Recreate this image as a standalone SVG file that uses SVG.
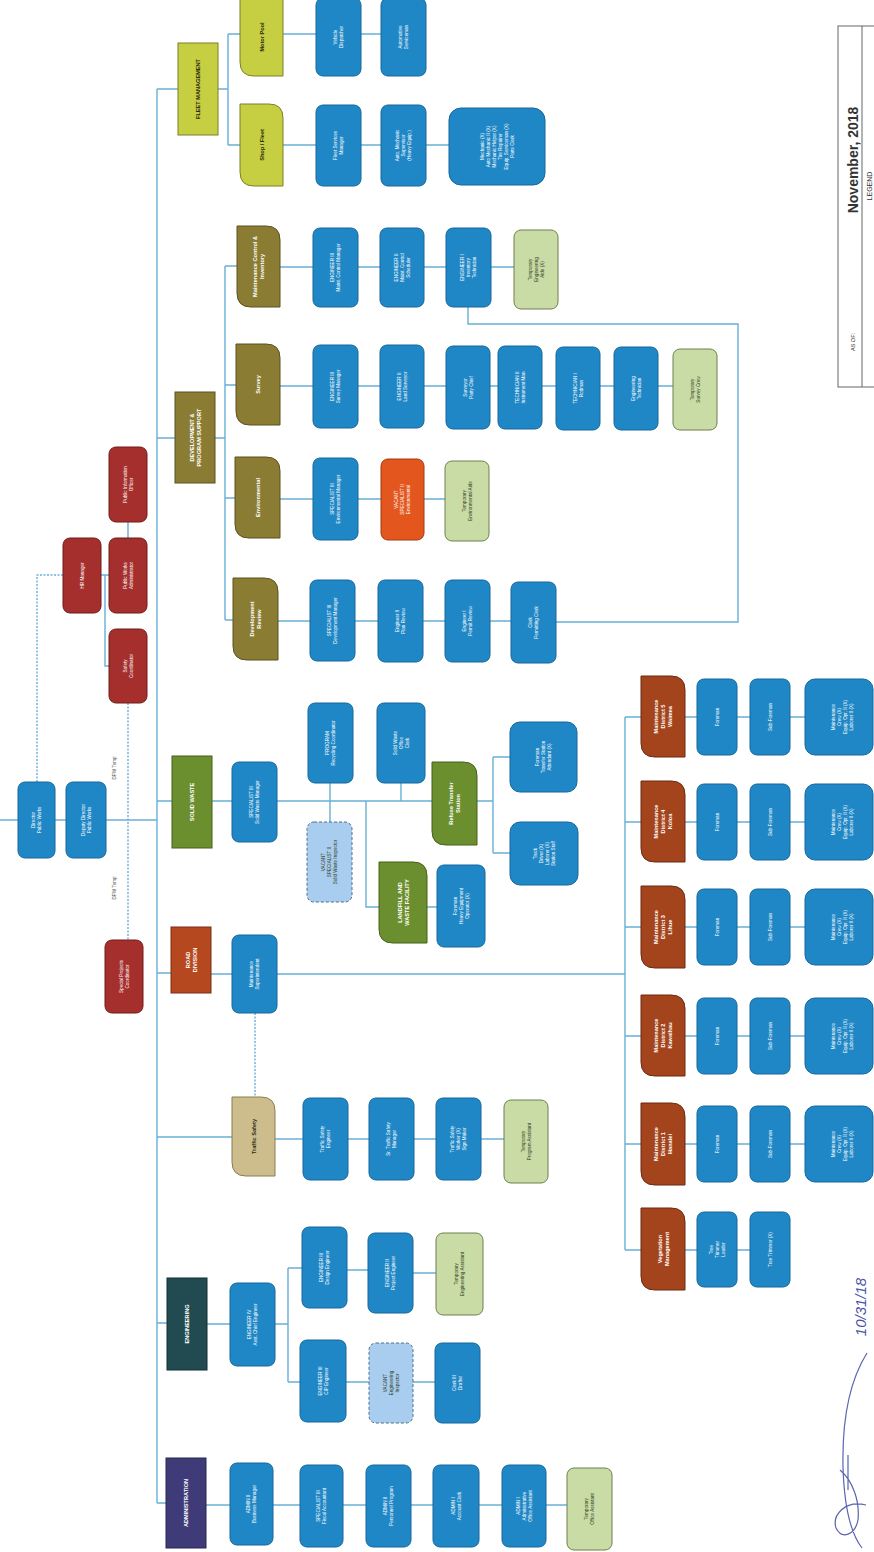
<svg xmlns="http://www.w3.org/2000/svg" width="874" height="1552" viewBox="0 0 874 1552">
<style>
.c{fill:none;stroke:#68afd8;stroke-width:1.4}
.cd{fill:none;stroke:#68afd8;stroke-width:1.4;stroke-dasharray:2 1.5}
.b{fill:#1f87c6;stroke:#17679b;stroke-width:1}
.tmp{fill:#c9dca6;stroke:#6f7f4f;stroke-width:1}
.vac{fill:#a9cdee;stroke:#4f6f8f;stroke-width:1;stroke-dasharray:3 2}
.vor{fill:#e3561d;stroke:#a03a10;stroke-width:1}
.red{fill:#a52f2c;stroke:#6e1c1a;stroke-width:1}
.ol{fill:#8b7c33;stroke:#5b5020;stroke-width:1}
.yg{fill:#c6cf42;stroke:#7c7f2a;stroke-width:1}
.gr{fill:#6b8f2e;stroke:#46601c;stroke-width:1}
.ro{fill:#b5481f;stroke:#7a2e10;stroke-width:1}
.br{fill:#a4441d;stroke:#6b2a10;stroke-width:1}
.te{fill:#214b50;stroke:#142f33;stroke-width:1}
.pu{fill:#3e3b78;stroke:#28264f;stroke-width:1}
.tan{fill:#cdbd8c;stroke:#8a7c50;stroke-width:1}
text{font-family:"Liberation Sans",Arial,sans-serif;text-anchor:middle}
.w{fill:#fff;font-size:4.6px}
.wb{fill:#fff;font-size:5.6px;font-weight:bold}
.d{fill:#2a3a1a;font-size:4.6px}
.db{fill:#2a2a10;font-size:5.6px;font-weight:bold}
</style>
<rect width="874" height="1552" fill="#fff"/>

<g id="connectors">
<path class="c" d="M0 820H157"/>
<path class="cd" d="M37 782V575H63"/>
<path class="c" d="M101 575H109M128 522V538M105 575V666H109"/>
<path class="cd" d="M128 703V940"/>
<path class="c" d="M157 89V1503"/>
<path class="c" d="M157 89H178M157 438H175M157 801H172M157 973H171M157 1137H232M157 1323H167M157 1503H166"/>
<path class="c" d="M218 89H228M228 34V145M228 34H240M228 145H240M283 34H381M283 145H449"/>
<path class="c" d="M215 438H225M225 266V620M225 266H237M225 385H236M225 498H235M225 620H233"/>
<path class="c" d="M280 267H514M280 386H673M280 499H445M278 621H511"/>
<path class="c" d="M468 307V324H738V622H556"/>
<path class="c" d="M212 801H493M330 783V822M401 783V801M366 801V907H379M427 907H437M493 757V853M493 757H510M493 853H510"/>
<path class="c" d="M211 974H625M625 717V1250M625 717H641M625 822H641M625 927H641M625 1036H641M625 1144H641M625 1250H641"/>
<path class="c" d="M685 717H805M685 822H805M685 927H805M685 1036H805M685 1144H805M685 1250H750"/>
<path class="cd" d="M255 1013V1097"/>
<path class="c" d="M275 1139H504"/>
<path class="c" d="M207 1324H230M275 1324H288M288 1268V1382M288 1268H302M347 1270H368M413 1273H436M288 1382H300M346 1382H435"/>
<path class="c" d="M206 1505H567"/>
</g>

<g id="root">
<g id="n-director"><rect class="b" x="18" y="782" width="37" height="76" rx="7"/><text class="w" transform="translate(36.5,820) rotate(-90)"><tspan x="0" y="-1.4">Director</tspan><tspan x="0" y="4.6">Public Works</tspan></text></g>
<g id="n-deputy"><rect class="b" x="66" y="782" width="40" height="76" rx="7"/><text class="w" transform="translate(86,820) rotate(-90)"><tspan x="0" y="-1.4">Deputy Director</tspan><tspan x="0" y="4.6">Public Works</tspan></text></g>
<g id="n-special"><rect class="red" x="105" y="940" width="38" height="73" rx="7"/><text class="w" transform="translate(124,976.5) rotate(-90)"><tspan x="0" y="-1.4">Special Projects</tspan><tspan x="0" y="4.6">Coordinator</tspan></text></g>
<g id="n-r1"><rect class="red" x="109" y="447" width="38" height="75" rx="7"/><text class="w" transform="translate(128,484.5) rotate(-90)"><tspan x="0" y="-1.4">Public Information</tspan><tspan x="0" y="4.6">Officer</tspan></text></g>
<g id="n-r2"><rect class="red" x="63" y="538" width="38" height="75" rx="7"/><text class="w" transform="translate(82,575.5) rotate(-90)"><tspan x="0" y="1.6">HR Manager</tspan></text></g>
<g id="n-r3"><rect class="red" x="109" y="538" width="38" height="75" rx="7"/><text class="w" transform="translate(128,575.5) rotate(-90)"><tspan x="0" y="-1.4">Public Works</tspan><tspan x="0" y="4.6">Administrator</tspan></text></g>
<g id="n-r4"><rect class="red" x="109" y="629" width="38" height="74" rx="7"/><text class="w" transform="translate(128,666) rotate(-90)"><tspan x="0" y="-1.4">Safety</tspan><tspan x="0" y="4.6">Coordinator</tspan></text></g>
<text fill="#555" font-size="4.6" transform="translate(116,768) rotate(-90)">DPW Temp</text>
<text fill="#555" font-size="4.6" transform="translate(116,888) rotate(-90)">DPW Temp</text>
</g>

<g id="n-fleet"><rect class="yg" x="178" y="43" width="40" height="92"/><text class="db" transform="translate(198,89) rotate(-90)"><tspan x="0" y="2">FLEET MANAGEMENT</tspan></text></g>
<g id="n-dps"><rect class="ol" x="175" y="392" width="40" height="91"/><text class="wb" transform="translate(195,437.5) rotate(-90)"><tspan x="0" y="-1.5">DEVELOPMENT &amp;</tspan><tspan x="0" y="5.5">PROGRAM SUPPORT</tspan></text></g>
<g id="n-sw"><rect class="gr" x="172" y="756" width="40" height="92"/><text class="wb" transform="translate(192,802) rotate(-90)"><tspan x="0" y="2">SOLID WASTE</tspan></text></g>
<g id="n-road"><rect class="ro" x="171" y="927" width="40" height="66"/><text class="wb" transform="translate(191,960) rotate(-90)"><tspan x="0" y="-1.5">ROAD</tspan><tspan x="0" y="5.5">DIVISION</tspan></text></g>
<g id="n-eng"><rect class="te" x="167" y="1278" width="40" height="92"/><text class="wb" transform="translate(187,1324) rotate(-90)"><tspan x="0" y="2">ENGINEERING</tspan></text></g>
<g id="n-admin"><rect class="pu" x="166" y="1458" width="40" height="90"/><text class="wb" transform="translate(186,1503) rotate(-90)"><tspan x="0" y="2">ADMINISTRATION</tspan></text></g>

<g id="fleet">
<g id="n-motor"><path class="yg" d="M240 -2H283V76H254Q240 76 240 62Z"/><text class="db" transform="translate(261.5,37) rotate(-90)"><tspan x="0" y="2">Motor Pool</tspan></text></g>
<g id="n-shop"><path class="yg" d="M240 104H269Q283 104 283 118V186H254Q240 186 240 172Z"/><text class="db" transform="translate(261.5,145) rotate(-90)"><tspan x="0" y="2">Shop / Fleet</tspan></text></g>
<g id="n-f1"><rect class="b" x="316" y="-2" width="45" height="78" rx="7"/><text class="w" transform="translate(338.5,37) rotate(-90)"><tspan x="0" y="-1.4">Vehicle</tspan><tspan x="0" y="4.6">Dispatcher</tspan></text></g>
<g id="n-f2"><rect class="b" x="381" y="-2" width="45" height="78" rx="7"/><text class="w" transform="translate(403.5,37) rotate(-90)"><tspan x="0" y="-1.4">Automotive</tspan><tspan x="0" y="4.6">Serviceman</tspan></text></g>
<g id="n-f3"><rect class="b" x="316" y="105" width="45" height="81" rx="7"/><text class="w" transform="translate(338.5,145.5) rotate(-90)"><tspan x="0" y="-1.4">Fleet Services</tspan><tspan x="0" y="4.6">Manager</tspan></text></g>
<g id="n-f4"><rect class="b" x="381" y="105" width="45" height="81" rx="7"/><text class="w" transform="translate(403.5,145.5) rotate(-90)"><tspan x="0" y="-4.4">Auto. Mechanic</tspan><tspan x="0" y="1.6">Supervisor</tspan><tspan x="0" y="7.6">(Heavy Equip.)</tspan></text></g>
<g id="n-f5"><rect class="b" x="449" y="108" width="96" height="77" rx="12"/><text class="w" transform="translate(497,146.5) rotate(-90)"><tspan x="0" y="-13.4">Mechanic (X)</tspan><tspan x="0" y="-7.4">Auto Mechanic II (X)</tspan><tspan x="0" y="-1.4">Mechanic Helper (X)</tspan><tspan x="0" y="4.6">Tire Repairer</tspan><tspan x="0" y="10.6">Equip. Serviceman (X)</tspan><tspan x="0" y="16.6">Parts Clerk</tspan></text></g>
</g>

<g id="dps">
<g id="n-mci"><path class="ol" d="M237 226H266Q280 226 280 240V307H251Q237 307 237 293Z"/><text class="wb" transform="translate(258.5,266.5) rotate(-90)"><tspan x="0" y="-1.5">Maintenance Control &amp;</tspan><tspan x="0" y="5.5">Inventory</tspan></text></g>
<g id="n-survey"><path class="ol" d="M236 344H266Q280 344 280 358V425H250Q236 425 236 411Z"/><text class="wb" transform="translate(258,384.5) rotate(-90)"><tspan x="0" y="2">Survey</tspan></text></g>
<g id="n-env"><path class="ol" d="M235 457H266Q280 457 280 471V538H249Q235 538 235 524Z"/><text class="wb" transform="translate(257.5,497.5) rotate(-90)"><tspan x="0" y="2">Environmental</tspan></text></g>
<g id="n-devrev"><path class="ol" d="M233 578H264Q278 578 278 592V660H247Q233 660 233 646Z"/><text class="wb" transform="translate(255.5,619) rotate(-90)"><tspan x="0" y="-1.5">Development</tspan><tspan x="0" y="5.5">Review</tspan></text></g>
<g id="n-m1"><rect class="b" x="313" y="228" width="45" height="79" rx="7"/><text class="w" transform="translate(335.5,267.5) rotate(-90)"><tspan x="0" y="-1.4">ENGINEER III</tspan><tspan x="0" y="4.6">Maint. Control Manager</tspan></text></g>
<g id="n-m2"><rect class="b" x="380" y="228" width="44" height="79" rx="7"/><text class="w" transform="translate(402,267.5) rotate(-90)"><tspan x="0" y="-4.4">ENGINEER II</tspan><tspan x="0" y="1.6">Maint. Control</tspan><tspan x="0" y="7.6">Scheduler</tspan></text></g>
<g id="n-m3"><rect class="b" x="446" y="228" width="45" height="79" rx="7"/><text class="w" transform="translate(468.5,267.5) rotate(-90)"><tspan x="0" y="-4.4">ENGINEER I</tspan><tspan x="0" y="1.6">Inventory</tspan><tspan x="0" y="7.6">Technician</tspan></text></g>
<g id="n-m4"><rect class="tmp" x="514" y="230" width="44" height="79" rx="7"/><text class="d" transform="translate(536,269.5) rotate(-90)"><tspan x="0" y="-4.4">Temporary</tspan><tspan x="0" y="1.6">Engineering</tspan><tspan x="0" y="7.6">Aide (X)</tspan></text></g>
<g id="n-s1"><rect class="b" x="313" y="345" width="45" height="83" rx="7"/><text class="w" transform="translate(335.5,386.5) rotate(-90)"><tspan x="0" y="-1.4">ENGINEER III</tspan><tspan x="0" y="4.6">Survey Manager</tspan></text></g>
<g id="n-s2"><rect class="b" x="380" y="345" width="44" height="83" rx="7"/><text class="w" transform="translate(402,386.5) rotate(-90)"><tspan x="0" y="-1.4">ENGINEER II</tspan><tspan x="0" y="4.6">Land Surveyor</tspan></text></g>
<g id="n-s3"><rect class="b" x="446" y="346" width="44" height="83" rx="7"/><text class="w" transform="translate(468,387.5) rotate(-90)"><tspan x="0" y="-1.4">Surveyor</tspan><tspan x="0" y="4.6">Party Chief</tspan></text></g>
<g id="n-s4"><rect class="b" x="498" y="346" width="44" height="83" rx="7"/><text class="w" transform="translate(520,387.5) rotate(-90)"><tspan x="0" y="-1.4">TECHNICIAN II</tspan><tspan x="0" y="4.6">Instrument Man</tspan></text></g>
<g id="n-s5"><rect class="b" x="556" y="347" width="44" height="83" rx="7"/><text class="w" transform="translate(578,388.5) rotate(-90)"><tspan x="0" y="-1.4">TECHNICIAN I</tspan><tspan x="0" y="4.6">Rodman</tspan></text></g>
<g id="n-s6"><rect class="b" x="614" y="347" width="44" height="83" rx="7"/><text class="w" transform="translate(636,388.5) rotate(-90)"><tspan x="0" y="-1.4">Engineering</tspan><tspan x="0" y="4.6">Technician</tspan></text></g>
<g id="n-s7"><rect class="tmp" x="673" y="349" width="44" height="81" rx="7"/><text class="d" transform="translate(695,389.5) rotate(-90)"><tspan x="0" y="-1.4">Temporary</tspan><tspan x="0" y="4.6">Survey Crew</tspan></text></g>
<g id="n-e1"><rect class="b" x="313" y="458" width="45" height="82" rx="7"/><text class="w" transform="translate(335.5,499) rotate(-90)"><tspan x="0" y="-1.4">SPECIALIST III</tspan><tspan x="0" y="4.6">Environmental Manager</tspan></text></g>
<g id="n-e2"><rect class="vor" x="381" y="459" width="43" height="81" rx="7"/><text class="w" transform="translate(402.5,499.5) rotate(-90)"><tspan x="0" y="-4.4">VACANT</tspan><tspan x="0" y="1.6">SPECIALIST II</tspan><tspan x="0" y="7.6">Environmental</tspan></text></g>
<g id="n-e3"><rect class="tmp" x="445" y="461" width="44" height="80" rx="7"/><text class="d" transform="translate(467,501) rotate(-90)"><tspan x="0" y="-1.4">Temporary</tspan><tspan x="0" y="4.6">Environmental Aide</tspan></text></g>
<g id="n-d1"><rect class="b" x="310" y="580" width="45" height="81" rx="7"/><text class="w" transform="translate(332.5,620.5) rotate(-90)"><tspan x="0" y="-1.4">SPECIALIST III</tspan><tspan x="0" y="4.6">Development Manager</tspan></text></g>
<g id="n-d2"><rect class="b" x="378" y="580" width="45" height="82" rx="7"/><text class="w" transform="translate(400.5,621) rotate(-90)"><tspan x="0" y="-1.4">Engineer II</tspan><tspan x="0" y="4.6">Plan Review</tspan></text></g>
<g id="n-d3"><rect class="b" x="445" y="580" width="45" height="82" rx="7"/><text class="w" transform="translate(467.5,621) rotate(-90)"><tspan x="0" y="-1.4">Engineer I</tspan><tspan x="0" y="4.6">Permit Review</tspan></text></g>
<g id="n-d4"><rect class="b" x="511" y="582" width="45" height="81" rx="7"/><text class="w" transform="translate(533.5,622.5) rotate(-90)"><tspan x="0" y="-1.4">Clerk</tspan><tspan x="0" y="4.6">Permitting Clerk</tspan></text></g>
</g>

<g id="solidwaste">
<g id="n-sw1"><rect class="b" x="232" y="762" width="45" height="80" rx="7"/><text class="w" transform="translate(254.5,802) rotate(-90)"><tspan x="0" y="-1.4">SPECIALIST III</tspan><tspan x="0" y="4.6">Solid Waste Manager</tspan></text></g>
<g id="n-sw2"><rect class="b" x="308" y="703" width="45" height="80" rx="7"/><text class="w" transform="translate(330.5,743) rotate(-90)"><tspan x="0" y="-1.4">PROGRAM</tspan><tspan x="0" y="4.6">Recycling Coordinator</tspan></text></g>
<g id="n-sw3"><rect class="b" x="377" y="703" width="48" height="80" rx="7"/><text class="w" transform="translate(401,743) rotate(-90)"><tspan x="0" y="-4.4">Solid Waste</tspan><tspan x="0" y="1.6">Office</tspan><tspan x="0" y="7.6">Clerk</tspan></text></g>
<g id="n-sw4"><rect class="vac" x="307" y="822" width="45" height="80" rx="7"/><text class="d" transform="translate(329.5,862) rotate(-90)"><tspan x="0" y="-4.4">VACANT</tspan><tspan x="0" y="1.6">SPECIALIST II</tspan><tspan x="0" y="7.6">Solid Waste Inspector</tspan></text></g>
<g id="n-rts"><path class="gr" d="M432 762H463Q477 762 477 776V845H446Q432 845 432 831Z"/><text class="wb" transform="translate(454.5,803.5) rotate(-90)"><tspan x="0" y="-1.5">Refuse Transfer</tspan><tspan x="0" y="5.5">Station</tspan></text></g>
<g id="n-lf"><path class="gr" d="M379 862H413Q427 862 427 876V943H393Q379 943 379 929Z"/><text class="wb" transform="translate(403,902.5) rotate(-90)"><tspan x="0" y="-1.5">LANDFILL AND</tspan><tspan x="0" y="5.5">WASTE FACILITY</tspan></text></g>
<g id="n-sw5"><rect class="b" x="510" y="722" width="67" height="70" rx="10"/><text class="w" transform="translate(543.5,757) rotate(-90)"><tspan x="0" y="-4.4">Foreman</tspan><tspan x="0" y="1.6">Transfer Station</tspan><tspan x="0" y="7.6">Attendant (X)</tspan></text></g>
<g id="n-sw6"><rect class="b" x="510" y="822" width="68" height="63" rx="10"/><text class="w" transform="translate(544,853.5) rotate(-90)"><tspan x="0" y="-7.4">Truck</tspan><tspan x="0" y="-1.4">Driver (X)</tspan><tspan x="0" y="4.6">Laborer (X)</tspan><tspan x="0" y="10.6">Station Staff</tspan></text></g>
<g id="n-sw7"><rect class="b" x="437" y="865" width="48" height="82" rx="7"/><text class="w" transform="translate(461,906) rotate(-90)"><tspan x="0" y="-4.4">Foreman</tspan><tspan x="0" y="1.6">Heavy Equipment</tspan><tspan x="0" y="7.6">Operator (X)</tspan></text></g>
</g>

<g id="road">
<g id="n-rd1"><rect class="b" x="232" y="935" width="45" height="78" rx="7"/><text class="w" transform="translate(254.5,974) rotate(-90)"><tspan x="0" y="-1.4">Maintenance</tspan><tspan x="0" y="4.6">Superintendent</tspan></text></g>
<g id="n-dist5"><path class="br" d="M641 676H671Q685 676 685 690V757H655Q641 757 641 743Z"/><text class="wb" transform="translate(663,716.5) rotate(-90)"><tspan x="0" y="-5">Maintenance</tspan><tspan x="0" y="2">District 5</tspan><tspan x="0" y="9">Waimea</tspan></text></g>
<g id="n-dist4"><path class="br" d="M641 781H671Q685 781 685 795V862H655Q641 862 641 848Z"/><text class="wb" transform="translate(663,821.5) rotate(-90)"><tspan x="0" y="-5">Maintenance</tspan><tspan x="0" y="2">District 4</tspan><tspan x="0" y="9">Koloa</tspan></text></g>
<g id="n-dist3"><path class="br" d="M641 886H671Q685 886 685 900V968H655Q641 968 641 954Z"/><text class="wb" transform="translate(663,927) rotate(-90)"><tspan x="0" y="-5">Maintenance</tspan><tspan x="0" y="2">District 3</tspan><tspan x="0" y="9">Lihue</tspan></text></g>
<g id="n-dist2"><path class="br" d="M641 995H671Q685 995 685 1009V1076H655Q641 1076 641 1062Z"/><text class="wb" transform="translate(663,1035.5) rotate(-90)"><tspan x="0" y="-5">Maintenance</tspan><tspan x="0" y="2">District 2</tspan><tspan x="0" y="9">Kawaihau</tspan></text></g>
<g id="n-dist1"><path class="br" d="M641 1103H671Q685 1103 685 1117V1185H655Q641 1185 641 1171Z"/><text class="wb" transform="translate(663,1144) rotate(-90)"><tspan x="0" y="-5">Maintenance</tspan><tspan x="0" y="2">District 1</tspan><tspan x="0" y="9">Hanalei</tspan></text></g>
<g id="n-veg"><path class="br" d="M641 1208H671Q685 1208 685 1222V1290H655Q641 1290 641 1276Z"/><text class="wb" transform="translate(663,1249) rotate(-90)"><tspan x="0" y="-1.5">Vegetation</tspan><tspan x="0" y="5.5">Management</tspan></text></g>

<g id="n-d5a"><rect class="b" x="697" y="679" width="40" height="76" rx="7"/><text class="w" transform="translate(717,717) rotate(-90)"><tspan x="0" y="1.6">Foreman</tspan></text></g>
<g id="n-d5b"><rect class="b" x="750" y="679" width="40" height="76" rx="7"/><text class="w" transform="translate(770,717) rotate(-90)"><tspan x="0" y="1.6">Sub-Foreman</tspan></text></g>
<g id="n-d5c"><rect class="b" x="805" y="679" width="68" height="76" rx="10"/><text class="w" transform="translate(839,717) rotate(-90)"><tspan x="0" y="-4.4">Maintenance</tspan><tspan x="0" y="1.6">Crew (X)</tspan><tspan x="0" y="7.6">Equip. Opr. II (X)</tspan><tspan x="0" y="13.6">Laborer II (X)</tspan></text></g>
<g id="n-d4a"><rect class="b" x="697" y="784" width="40" height="76" rx="7"/><text class="w" transform="translate(717,822) rotate(-90)"><tspan x="0" y="1.6">Foreman</tspan></text></g>
<g id="n-d4b"><rect class="b" x="750" y="784" width="40" height="76" rx="7"/><text class="w" transform="translate(770,822) rotate(-90)"><tspan x="0" y="1.6">Sub-Foreman</tspan></text></g>
<g id="n-d4c"><rect class="b" x="805" y="784" width="68" height="76" rx="10"/><text class="w" transform="translate(839,822) rotate(-90)"><tspan x="0" y="-4.4">Maintenance</tspan><tspan x="0" y="1.6">Crew (X)</tspan><tspan x="0" y="7.6">Equip. Opr. II (X)</tspan><tspan x="0" y="13.6">Laborer II (X)</tspan></text></g>
<g id="n-d3a"><rect class="b" x="697" y="889" width="40" height="76" rx="7"/><text class="w" transform="translate(717,927) rotate(-90)"><tspan x="0" y="1.6">Foreman</tspan></text></g>
<g id="n-d3b"><rect class="b" x="750" y="889" width="40" height="76" rx="7"/><text class="w" transform="translate(770,927) rotate(-90)"><tspan x="0" y="1.6">Sub-Foreman</tspan></text></g>
<g id="n-d3c"><rect class="b" x="805" y="889" width="68" height="76" rx="10"/><text class="w" transform="translate(839,927) rotate(-90)"><tspan x="0" y="-4.4">Maintenance</tspan><tspan x="0" y="1.6">Crew (X)</tspan><tspan x="0" y="7.6">Equip. Opr. II (X)</tspan><tspan x="0" y="13.6">Laborer II (X)</tspan></text></g>
<g id="n-d2a"><rect class="b" x="697" y="998" width="40" height="76" rx="7"/><text class="w" transform="translate(717,1036) rotate(-90)"><tspan x="0" y="1.6">Foreman</tspan></text></g>
<g id="n-d2b"><rect class="b" x="750" y="998" width="40" height="76" rx="7"/><text class="w" transform="translate(770,1036) rotate(-90)"><tspan x="0" y="1.6">Sub-Foreman</tspan></text></g>
<g id="n-d2c"><rect class="b" x="805" y="998" width="68" height="76" rx="10"/><text class="w" transform="translate(839,1036) rotate(-90)"><tspan x="0" y="-4.4">Maintenance</tspan><tspan x="0" y="1.6">Crew (X)</tspan><tspan x="0" y="7.6">Equip. Opr. II (X)</tspan><tspan x="0" y="13.6">Laborer II (X)</tspan></text></g>
<g id="n-d1a"><rect class="b" x="697" y="1106" width="40" height="76" rx="7"/><text class="w" transform="translate(717,1144) rotate(-90)"><tspan x="0" y="1.6">Foreman</tspan></text></g>
<g id="n-d1b"><rect class="b" x="750" y="1106" width="40" height="76" rx="7"/><text class="w" transform="translate(770,1144) rotate(-90)"><tspan x="0" y="1.6">Sub-Foreman</tspan></text></g>
<g id="n-d1c"><rect class="b" x="805" y="1106" width="68" height="76" rx="10"/><text class="w" transform="translate(839,1144) rotate(-90)"><tspan x="0" y="-4.4">Maintenance</tspan><tspan x="0" y="1.6">Crew (X)</tspan><tspan x="0" y="7.6">Equip. Opr. II (X)</tspan><tspan x="0" y="13.6">Laborer II (X)</tspan></text></g>
<g id="n-vga"><rect class="b" x="697" y="1212" width="40" height="75" rx="7"/><text class="w" transform="translate(717,1249.5) rotate(-90)"><tspan x="0" y="-4.4">Tree</tspan><tspan x="0" y="1.6">Trimmer</tspan><tspan x="0" y="7.6">Leader</tspan></text></g>
<g id="n-vgb"><rect class="b" x="750" y="1212" width="40" height="75" rx="7"/><text class="w" transform="translate(770,1249.5) rotate(-90)"><tspan x="0" y="1.6">Tree Trimmer (X)</tspan></text></g>
</g>

<g id="traffic">
<g id="n-traffic"><path class="tan" d="M232 1097H261Q275 1097 275 1111V1176H246Q232 1176 232 1162Z"/><text class="db" transform="translate(253.5,1136.5) rotate(-90)"><tspan x="0" y="2">Traffic Safety</tspan></text></g>
<g id="n-t1"><rect class="b" x="303" y="1098" width="45" height="82" rx="7"/><text class="w" transform="translate(325.5,1139) rotate(-90)"><tspan x="0" y="-1.4">Traffic Safety</tspan><tspan x="0" y="4.6">Engineer</tspan></text></g>
<g id="n-t2"><rect class="b" x="369" y="1098" width="45" height="82" rx="7"/><text class="w" transform="translate(391.5,1139) rotate(-90)"><tspan x="0" y="-1.4">Sr. Traffic Safety</tspan><tspan x="0" y="4.6">Manager</tspan></text></g>
<g id="n-t3"><rect class="b" x="436" y="1098" width="45" height="82" rx="7"/><text class="w" transform="translate(458.5,1139) rotate(-90)"><tspan x="0" y="-4.4">Traffic Safety</tspan><tspan x="0" y="1.6">Worker (X)</tspan><tspan x="0" y="7.6">Sign Maker</tspan></text></g>
<g id="n-t4"><rect class="tmp" x="504" y="1100" width="44" height="83" rx="7"/><text class="d" transform="translate(526,1141.5) rotate(-90)"><tspan x="0" y="-1.4">Temporary</tspan><tspan x="0" y="4.6">Program Assistant</tspan></text></g>
</g>

<g id="engineering">
<g id="n-en1"><rect class="b" x="230" y="1283" width="45" height="83" rx="7"/><text class="w" transform="translate(252.5,1324.5) rotate(-90)"><tspan x="0" y="-1.4">ENGINEER IV</tspan><tspan x="0" y="4.6">Asst. Chief Engineer</tspan></text></g>
<g id="n-en2"><rect class="b" x="302" y="1227" width="45" height="81" rx="7"/><text class="w" transform="translate(324.5,1267.5) rotate(-90)"><tspan x="0" y="-1.4">ENGINEER III</tspan><tspan x="0" y="4.6">Design Engineer</tspan></text></g>
<g id="n-en3"><rect class="b" x="368" y="1233" width="45" height="80" rx="7"/><text class="w" transform="translate(390.5,1273) rotate(-90)"><tspan x="0" y="-1.4">ENGINEER II</tspan><tspan x="0" y="4.6">Project Engineer</tspan></text></g>
<g id="n-en4"><rect class="tmp" x="436" y="1233" width="47" height="82" rx="7"/><text class="d" transform="translate(459.5,1274) rotate(-90)"><tspan x="0" y="-1.4">Temporary</tspan><tspan x="0" y="4.6">Engineering Assistant</tspan></text></g>
<g id="n-en5"><rect class="b" x="300" y="1340" width="46" height="82" rx="7"/><text class="w" transform="translate(323,1381) rotate(-90)"><tspan x="0" y="-1.4">ENGINEER III</tspan><tspan x="0" y="4.6">CIP Engineer</tspan></text></g>
<g id="n-en6"><rect class="vac" x="369" y="1343" width="44" height="80" rx="7"/><text class="d" transform="translate(391,1383) rotate(-90)"><tspan x="0" y="-4.4">VACANT</tspan><tspan x="0" y="1.6">Engineering</tspan><tspan x="0" y="7.6">Inspector</tspan></text></g>
<g id="n-en7"><rect class="b" x="435" y="1343" width="45" height="80" rx="7"/><text class="w" transform="translate(457.5,1383) rotate(-90)"><tspan x="0" y="-1.4">Clerk III</tspan><tspan x="0" y="4.6">Drafter</tspan></text></g>
</g>

<g id="administration">
<g id="n-a1"><rect class="b" x="230" y="1463" width="43" height="82" rx="7"/><text class="w" transform="translate(251.5,1504) rotate(-90)"><tspan x="0" y="-1.4">ADMIN II</tspan><tspan x="0" y="4.6">Business Manager</tspan></text></g>
<g id="n-a2"><rect class="b" x="300" y="1465" width="43" height="82" rx="7"/><text class="w" transform="translate(321.5,1506) rotate(-90)"><tspan x="0" y="-1.4">SPECIALIST III</tspan><tspan x="0" y="4.6">Fiscal Accountant</tspan></text></g>
<g id="n-a3"><rect class="b" x="366" y="1465" width="45" height="82" rx="7"/><text class="w" transform="translate(388.5,1506) rotate(-90)"><tspan x="0" y="-1.4">ADMIN II</tspan><tspan x="0" y="4.6">Personnel Program</tspan></text></g>
<g id="n-a4"><rect class="b" x="433" y="1465" width="46" height="82" rx="7"/><text class="w" transform="translate(456,1506) rotate(-90)"><tspan x="0" y="-1.4">ADMIN I</tspan><tspan x="0" y="4.6">Account Clerk</tspan></text></g>
<g id="n-a5"><rect class="b" x="502" y="1465" width="44" height="82" rx="7"/><text class="w" transform="translate(524,1506) rotate(-90)"><tspan x="0" y="-4.4">ADMIN I</tspan><tspan x="0" y="1.6">Administrative</tspan><tspan x="0" y="7.6">Office Assistant</tspan></text></g>
<g id="n-a6"><rect class="tmp" x="567" y="1468" width="45" height="82" rx="7"/><text class="d" transform="translate(589.5,1509) rotate(-90)"><tspan x="0" y="-1.4">Temporary</tspan><tspan x="0" y="4.6">Office Assistant</tspan></text></g>
</g>

<g id="legend">
<rect x="838" y="26" width="40" height="361" fill="#fff" stroke="#666" stroke-width="1"/>
<line x1="862" y1="26" x2="862" y2="387" stroke="#666" stroke-width="1"/>
<text fill="#333" font-size="14" font-weight="bold" transform="translate(858,160) rotate(-90)">November, 2018</text>
<text fill="#333" font-size="5.5" transform="translate(855,342) rotate(-90)">AS OF:</text>
<text fill="#333" font-size="7" transform="translate(872,186) rotate(-90)">LEGEND</text>
</g>

<g id="signature">
<text fill="#4a55a8" font-size="15" font-style="italic" font-family="'DejaVu Serif',serif" transform="translate(866,1307) rotate(-90)">10/31/18</text>
<path d="M867 1353C850 1380 842 1420 843 1467C844 1500 848 1530 862 1548M840 1470C852 1480 860 1500 858 1520C855 1535 842 1540 836 1528C832 1515 845 1500 866 1505M848 1455V1490" fill="none" stroke="#5a64b0" stroke-width="1.2"/>
</g>
</svg>
